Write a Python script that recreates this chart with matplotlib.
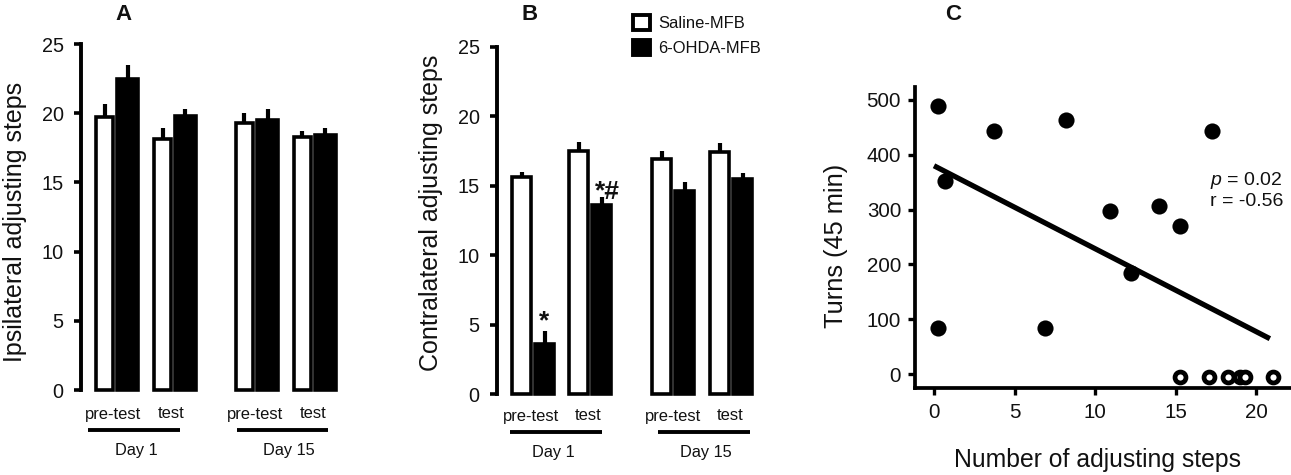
import matplotlib
matplotlib.use('Agg')
import matplotlib.pyplot as plt
from matplotlib.patches import Patch

plt.rcParams['font.family'] = ['Liberation Sans', 'DejaVu Sans']
plt.rcParams['mathtext.fontset'] = 'custom'
plt.rcParams['mathtext.it'] = 'Liberation Sans:italic'
plt.rcParams['mathtext.rm'] = 'Liberation Sans'

# panel A
ipsi_saline = [19.7, 18.1, 19.3, 18.3]
ipsi_saline_err = [1.0, 0.8, 0.7, 0.4]
ipsi_ohda = [22.45, 19.8, 19.5, 18.4]
ipsi_ohda_err = [1.05, 0.5, 0.8, 0.5]

# panel B
contra_saline = [15.6, 17.5, 16.95, 17.43]
contra_saline_err = [0.4, 0.65, 0.55, 0.62]
contra_ohda = [3.6, 13.6, 14.6, 15.47]
contra_ohda_err = [0.95, 0.6, 0.7, 0.43]

# panel C
filled_x = [0.25, 0.7, 3.75, 8.2, 10.9, 13.95, 15.25, 17.25, 12.2, 0.25, 6.9]
filled_y = [489, 352, 443, 463, 298, 307, 270, 444, 185, 84.5, 84.5]
open_x = [15.25, 17.1, 18.25, 19.0, 19.3, 21.05]
open_y = [-5.5, -5.5, -5.5, -5.5, -5.5, -5.5]
fit_x = [0, 20.85]
fit_y = [380, 64.5]

W, H = 1291, 475
fig = plt.figure(figsize=(W / 100, H / 100), dpi=100)
INK = '#111111'


def px_axes(left, top, right, bottom):
    return fig.add_axes([left / W, 1 - bottom / H, (right - left) / W, (bottom - top) / H])


def label(x, y, s, size, **kw):
    fig.text(x / W, 1 - y / H, s, fontsize=size, ha='center', va='center', color=INK, **kw)


def hline(x0, x1, y):
    fig.add_artist(plt.Line2D([x0 / W, x1 / W], [1 - y / H, 1 - y / H], color='black', lw=2.8,
                              solid_capstyle='butt'))


def bar_panel(left, top, bottom, saline, saline_err, ohda, ohda_err, lefts, w_white, w_black):
    ax = px_axes(left, top, left + 270, bottom)
    ax.set_xlim(0, 270)
    ax.set_ylim(0, 25)
    edge = 3.6
    for i in range(4):
        x0 = lefts[i]
        xw = x0 + edge / 2
        xb = x0 + w_white + edge / 2
        ax.bar(xb, ohda[i], w_black - edge, align='edge', color='black', edgecolor='black',
               linewidth=2.6, clip_on=False)
        ax.bar(xw, saline[i], w_white - edge, align='edge', color='white', edgecolor='black',
               linewidth=2.6, clip_on=False, zorder=3)
        ax.errorbar(x0 + w_white / 2, saline[i], yerr=[[0], [saline_err[i]]], color='black',
                    elinewidth=3, capsize=0, zorder=4)
        ax.errorbar(x0 + w_white + w_black / 2, ohda[i], yerr=[[0], [ohda_err[i]]], color='black',
                    elinewidth=3, capsize=0, zorder=4)
    for s in ['top', 'right', 'bottom']:
        ax.spines[s].set_visible(False)
    ax.spines['left'].set_linewidth(2.8)
    ax.set_xticks([])
    ax.set_yticks([0, 5, 10, 15, 20, 25])
    ax.tick_params(axis='y', length=5, width=2.6, pad=7.5, labelsize=14.3, labelcolor=INK)
    ax.patch.set_alpha(0)
    return ax


ax_a = bar_panel(81, 44, 390, ipsi_saline, ipsi_saline_err, ipsi_ohda, ipsi_ohda_err,
                 [13, 71, 153, 211], 21, 25)
ax_b = bar_panel(497, 47, 394, contra_saline, contra_saline_err, contra_ohda, contra_ohda_err,
                 [13, 70, 153, 211], 23, 23)

label(15, 222, 'Ipsilateral adjusting steps', 18, rotation=90)
label(431, 213, 'Contralateral adjusting steps', 18, rotation=90)

for x, s in zip([113, 171, 255, 313], ['pre-test', 'test', 'pre-test', 'test']):
    label(x, 414, s, 11.9)
for x, s in zip([136, 289], ['Day 1', 'Day 15']):
    label(x, 450, s, 11.8)
hline(88, 180, 430)
hline(237, 328, 430)

for x, s in zip([531, 588, 673, 730], ['pre-test', 'test', 'pre-test', 'test']):
    label(x, 416, s, 11.9)
for x, s in zip([553, 706], ['Day 1', 'Day 15']):
    label(x, 452, s, 11.8)
hline(510, 602, 432)
hline(658, 750, 432)

label(544, 321, '*', 19, fontweight='bold')
label(607, 192, '*#', 19, fontweight='bold')

label(123, 15, 'A', 16, fontweight='bold')
label(530, 15, 'B', 16, fontweight='bold')
label(953, 15, 'C', 16, fontweight='bold')

handles = [Patch(facecolor='white', edgecolor='black', linewidth=2.8),
           Patch(facecolor='black', edgecolor='black', linewidth=2.8)]
fig.legend(handles, ['Saline-MFB', '6-OHDA-MFB'], loc='upper left',
           bbox_to_anchor=(633 / W, 1 - 15 / H), frameon=False, fontsize=11.9, borderpad=0,
           borderaxespad=0, handlelength=1.05, handleheight=1.05, labelspacing=0.5,
           handletextpad=0.5, labelcolor=INK)

# panel C
ax_c = px_axes(915, 87, 1290, 388)
ax_c.set_xlim(-1.18, 22.1)
ax_c.set_ylim(-25.5, 523.7)
ax_c.plot(fit_x, fit_y, color='black', lw=3.8, solid_capstyle='butt', zorder=3)
ax_c.scatter(filled_x, filled_y, s=135, color='black', linewidths=0, zorder=2)
ax_c.scatter(open_x, open_y, s=62, facecolor='white', edgecolor='black', linewidths=3.4, zorder=2)
for s in ['top', 'right']:
    ax_c.spines[s].set_visible(False)
ax_c.spines['left'].set_linewidth(2.7)
ax_c.spines['bottom'].set_linewidth(2.7)
ax_c.set_xticks([0, 5, 10, 15, 20])
ax_c.set_yticks([0, 100, 200, 300, 400, 500])
ax_c.tick_params(axis='both', length=5, width=2.4, labelsize=14.8, labelcolor=INK)
ax_c.tick_params(axis='y', pad=5)
ax_c.tick_params(axis='x', pad=6)

label(836, 246, 'Turns (45 min)', 18.3, rotation=90)
label(1097, 460, 'Number of adjusting steps', 17.85)
fig.text(1210 / W, 1 - 180 / H, r'$\mathit{p}$ = 0.02', fontsize=14, va='center', color=INK)
fig.text(1210 / W, 1 - 202 / H, 'r = -0.56', fontsize=14, va='center', color=INK)

fig.savefig('out.png', dpi=100)
